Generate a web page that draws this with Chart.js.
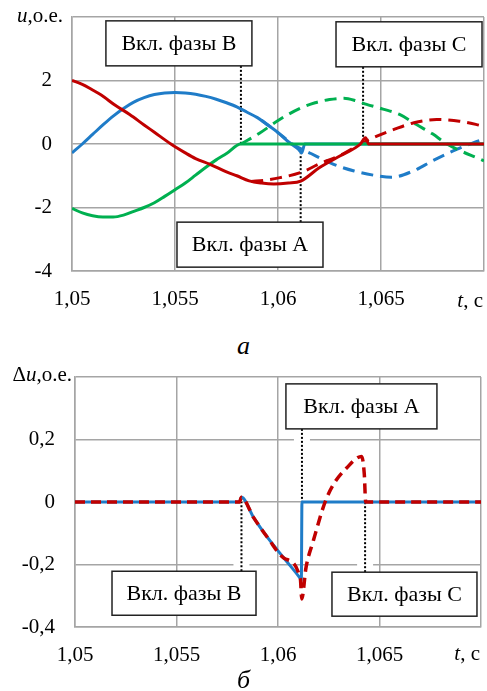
<!DOCTYPE html>
<html>
<head>
<meta charset="utf-8">
<script src="https://cdn.jsdelivr.net/npm/chart.js@4/dist/chart.umd.min.js"></script>
<style>
  html, body { margin: 0; padding: 0; background: #fff; }
  body { width: 487px; height: 691px; position: relative; overflow: hidden; font-family: "Liberation Serif", "Times New Roman", serif; }
  .box { position: absolute; left: 0; width: 487px; height: 310px; }
  .cap { position: absolute; left: 0; width: 487px; text-align: center; font-style: italic; font-size: 26px; line-height: 26px; }
</style>
</head>
<body>
<div class="box" style="top:0"><canvas id="top-chart"></canvas></div>
<div class="cap" style="top:333px">а</div>
<div class="box" style="top:360px"><canvas id="bottom-chart"></canvas></div>
<div class="cap" style="top:667px">б</div>
<script>
// --- a: phase voltages, u (o.e.) vs t (s)
const tA = [1.05, 1.0505, 1.051, 1.0515, 1.052, 1.0525, 1.053, 1.0535, 1.054, 1.0545, 1.055, 1.0555, 1.056, 1.0565, 1.057, 1.0575, 1.058, 1.0585, 1.059, 1.0595, 1.06, 1.0605, 1.061, 1.06115, 1.0613, 1.07];
const uA = [-0.28, 0, 0.3, 0.6, 0.88, 1.12, 1.32, 1.46, 1.56, 1.61, 1.62, 1.61, 1.57, 1.5, 1.41, 1.3, 1.17, 1.0, 0.83, 0.6, 0.36, 0.07, -0.17, -0.28, 0, 0];
const tAd = [1.0592, 1.06, 1.0607, 1.0616, 1.0627, 1.0637, 1.0648, 1.0655, 1.0666, 1.0675, 1.0685, 1.0695, 1.07];
const uAd = [0.75, 0.36, 0, -0.3, -0.64, -0.85, -1.0, -1.05, -0.84, -0.53, -0.22, 0.04, 0.15];

const tB = [1.05, 1.0505, 1.051, 1.0515, 1.052, 1.0525, 1.053, 1.0535, 1.054, 1.0545, 1.055, 1.0555, 1.056, 1.0565, 1.057, 1.0575, 1.0582, 1.07];
const uB = [-2.03, -2.17, -2.26, -2.3, -2.3, -2.24, -2.12, -2.0, -1.85, -1.65, -1.44, -1.23, -0.98, -0.73, -0.5, -0.3, 0, 0];
const tBd = [1.0582, 1.0591, 1.0601, 1.0611, 1.0618, 1.0625, 1.0632, 1.0638, 1.0643, 1.0651, 1.0659, 1.0667, 1.0675, 1.0682, 1.07];
const uBd = [0, 0.34, 0.78, 1.13, 1.3, 1.4, 1.44, 1.36, 1.25, 1.1, 0.93, 0.62, 0.32, 0, -0.53];

const tC = [1.05, 1.0505, 1.051, 1.0514, 1.0521, 1.0528, 1.0535, 1.054, 1.0548, 1.0555, 1.056, 1.0567, 1.0575, 1.058, 1.0586, 1.0592, 1.0598, 1.0605, 1.0611, 1.062, 1.063, 1.064, 1.06425, 1.0644, 1.07];
const uC = [2.0, 1.88, 1.7, 1.55, 1.22, 0.93, 0.6, 0.37, 0, -0.28, -0.46, -0.64, -0.88, -1.0, -1.16, -1.23, -1.26, -1.23, -1.17, -0.75, -0.38, 0, 0.2, 0, 0];
const tCd = [1.0587, 1.0594, 1.0601, 1.0611, 1.062, 1.063, 1.064, 1.0648, 1.0656, 1.0666, 1.0677, 1.0688, 1.07];
const uCd = [-1.18, -1.14, -1.06, -0.9, -0.63, -0.36, 0, 0.25, 0.45, 0.67, 0.77, 0.72, 0.56];

// --- б: deviation Δu
const tDA = [1.05, 1.0581, 1.0582, 1.0588, 1.0595, 1.0603, 1.0611, 1.06115, 1.06118, 1.07];
const duA = [0, 0, 0.015, -0.05, -0.115, -0.18, -0.245, -0.25, 0, 0];
const tDC = [1.05, 1.0581, 1.0582, 1.0588, 1.0595, 1.0603, 1.0611, 1.06117, 1.06138, 1.06174, 1.06232, 1.06273, 1.06338, 1.06412, 1.06425, 1.06432, 1.07];
const duC = [0, 0, 0.015, -0.05, -0.115, -0.18, -0.245, -0.31, -0.21, -0.124, 0, 0.056, 0.109, 0.146, 0.09, 0, 0];

// switching moments
const tSwitch = { A: 1.0611, B: 1.0582, C: 1.06413 };

const FONT = '"Liberation Serif", "Times New Roman", Times, serif';
const GRID = "rgb(165,165,165)";
const BLUE = "#1f7cc8", GREEN = "#00b050", RED = "#c00000";

const pts = (ts, vs) => ts.map((t, i) => ({ x: t, y: vs[i] }));
const fmt = (v, d) => String(Math.round(v * 10 ** d) / 10 ** d).replace(".", ",");

function line(data, color, dashed, width) {
  return {
    data, borderColor: color, borderWidth: width || 3, borderDash: dashed ? dashed : [],
    pointRadius: 0, cubicInterpolationMode: "monotone", fill: false,
  };
}

function drawMixed(ctx, parts, xRight, baseline) {
  const fonts = parts.map((p) => `${p.i ? "italic " : ""}21px ${FONT}`);
  let total = 0;
  parts.forEach((p, k) => { ctx.font = fonts[k]; total += ctx.measureText(p.t).width; });
  let x = xRight - total;
  ctx.fillStyle = "#000";
  ctx.textBaseline = "alphabetic";
  ctx.textAlign = "left";
  parts.forEach((p, k) => { ctx.font = fonts[k]; ctx.fillText(p.t, x, baseline); x += ctx.measureText(p.t).width; });
}

function notesPlugin(cfg) {
  return {
    id: "notes",
    beforeDatasetsDraw(chart) {
      const { ctx, scales: { x, y } } = chart;
      ctx.save();
      cfg.notes.forEach((n) => {
        const px = x.getPixelForValue(n.t);
        const by = y.getPixelForValue(n.boxV);
        const ly = y.getPixelForValue(n.lineTo);
        const edge = by > ly ? by - n.h / 2 : by + n.h / 2;
        if (cfg.gap) {
          ctx.setLineDash([]);
          ctx.strokeStyle = "#fff";
          ctx.lineWidth = 16;
          ctx.beginPath();
          ctx.moveTo(px, edge);
          ctx.lineTo(px, ly + (edge > ly ? 3 : -3));
          ctx.stroke();
        }
        ctx.setLineDash([2, 2]);
        ctx.strokeStyle = "#000";
        ctx.lineWidth = 2;
        ctx.beginPath();
        ctx.moveTo(px, edge);
        ctx.lineTo(px, ly);
        ctx.stroke();
      });
      ctx.restore();
    },
    afterDraw(chart) {
      const { ctx, chartArea: a, scales: { x, y } } = chart;
      ctx.save();
      cfg.notes.forEach((n) => {
        const bx = x.getPixelForValue(n.boxT), by = y.getPixelForValue(n.boxV);
        ctx.setLineDash([]);
        ctx.fillStyle = "#fff";
        ctx.strokeStyle = "#222";
        ctx.lineWidth = 1.5;
        ctx.fillRect(bx - n.w / 2, by - n.h / 2, n.w, n.h);
        ctx.strokeRect(bx - n.w / 2, by - n.h / 2, n.w, n.h);
        ctx.fillStyle = "#000";
        ctx.font = `22px ${FONT}`;
        ctx.textAlign = "center";
        ctx.textBaseline = "middle";
        ctx.fillText(n.label, bx, by + 1);
      });
      drawMixed(ctx, cfg.yTitle, a.left + cfg.yTitleDx, cfg.yTitleBase);
      drawMixed(ctx, [{ t: "t", i: true }, { t: ", с" }], a.right - 1, a.bottom + cfg.xTitleDy);
      ctx.restore();
    },
  };
}

function makeChart(id, datasets, yOpts, xAxisH, yAxisW, pad, plugin) {
  return new Chart(document.getElementById(id), {
    type: "line",
    data: { datasets },
    options: {
      responsive: true,
      maintainAspectRatio: false,
      animation: false,
      layout: { padding: pad },
      plugins: { legend: { display: false }, tooltip: { enabled: false } },
      scales: {
        x: {
          type: "linear", min: 1.05, max: 1.07,
          grid: { color: GRID, lineWidth: 1.5, drawTicks: false },
          border: { color: GRID, width: 1.5 },
          ticks: {
            stepSize: 0.005, padding: 16, color: "#000", font: { family: FONT, size: 21 },
            maxRotation: 0, autoSkip: false,
            callback: (v) => (v > 1.0695 ? "" : fmt(v, 3)),
          },
          afterFit: (s) => { s.height = xAxisH; s.paddingLeft = 0; s.paddingRight = 0; },
        },
        y: {
          min: yOpts.min, max: yOpts.max,
          grid: { color: GRID, lineWidth: 1.5, drawTicks: false },
          border: { color: GRID, width: 1.5 },
          ticks: {
            stepSize: yOpts.step, padding: 20, color: "#000", font: { family: FONT, size: 21 },
            callback: (v) => (v > yOpts.max - yOpts.step / 10 ? "" : fmt(v, yOpts.dec)),
          },
          afterFit: (s) => { s.width = yAxisW; s.paddingTop = 0; s.paddingBottom = 0; },
        },
      },
    },
    plugins: [plugin],
  });
}

function build() {
  makeChart(
    "top-chart",
    [
      line(pts(tC, uC), RED),
      line(pts(tB, uB), GREEN),
      line(pts(tA, uA), BLUE),
      line(pts(tCd, uCd), RED, [12, 7]),
      line(pts(tBd, uBd), GREEN, [12, 7]),
      line(pts(tAd, uAd), BLUE, [12, 7]),
    ],
    { min: -4, max: 4, step: 2, dec: 0 },
    39, 72, { top: 17, right: 3, left: 0, bottom: 0 },
    notesPlugin({
      gap: false,
      yTitle: [{ t: "u", i: true }, { t: ",о.е." }], yTitleDx: -9, yTitleBase: 22, xTitleDy: 36,
      notes: [
        { label: "Вкл. фазы A", t: tSwitch.A, lineTo: -0.3, boxT: 1.05864, boxV: -3.17, w: 146, h: 45 },
        { label: "Вкл. фазы B", t: tSwitch.B, lineTo: 0, boxT: 1.05519, boxV: 3.17, w: 146, h: 45 },
        { label: "Вкл. фазы C", t: tSwitch.C, lineTo: 0, boxT: 1.06636, boxV: 3.14, w: 146, h: 45 },
      ],
    })
  );

  makeChart(
    "bottom-chart",
    [
      line(pts(tDC, duC), RED, [10, 6], 3.5),
      line(pts(tDA, duA), BLUE),
    ],
    { min: -0.4, max: 0.4, step: 0.2, dec: 1 },
    43, 75, { top: 17, right: 6, left: 0, bottom: 0 },
    notesPlugin({
      gap: true,
      yTitle: [{ t: "Δ" }, { t: "u", i: true }, { t: ",о.е." }], yTitleDx: -3, yTitleBase: 21, xTitleDy: 33,
      notes: [
        { label: "Вкл. фазы A", t: 1.06118, lineTo: 0, boxT: 1.06411, boxV: 0.306, w: 151, h: 45 },
        { label: "Вкл. фазы B", t: tSwitch.B, lineTo: 0, boxT: 1.05537, boxV: -0.292, w: 144, h: 44 },
        { label: "Вкл. фазы C", t: 1.06429, lineTo: 0, boxT: 1.06623, boxV: -0.295, w: 145, h: 44 },
      ],
    })
  );
}

Promise.all([
  document.fonts.load(`21px ${FONT}`),
  document.fonts.load(`italic 21px ${FONT}`),
]).then(build, build);
</script>
</body>
</html>
